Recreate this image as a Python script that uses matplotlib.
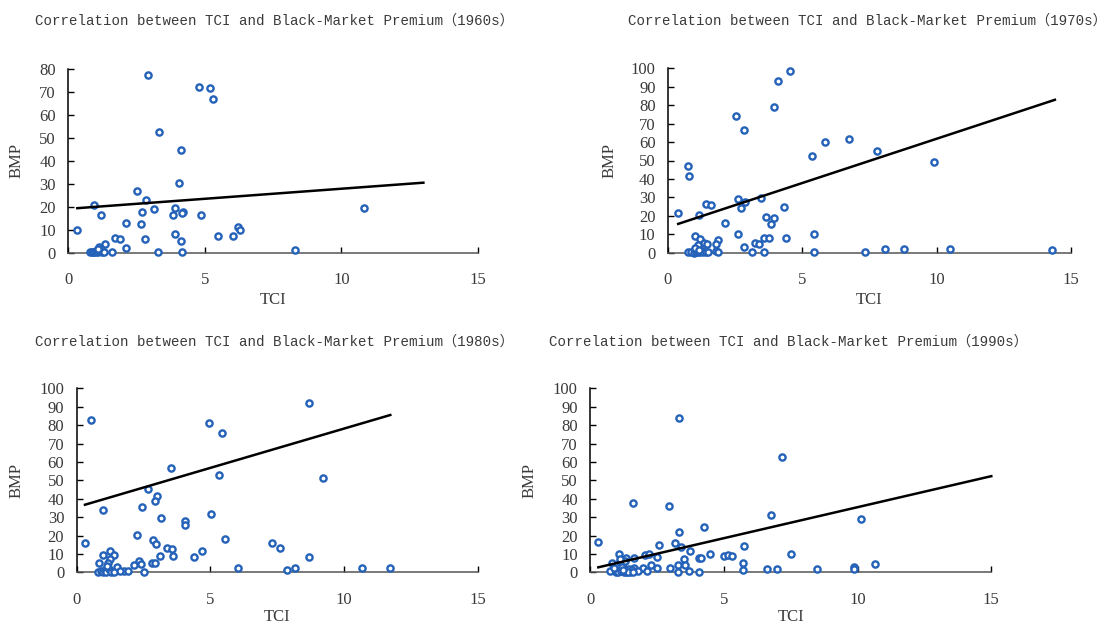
import matplotlib
matplotlib.use("Agg")
import matplotlib.pyplot as plt
import numpy as np

# ---------------- data ----------------
titles = [
    "Correlation between TCI and Black-Market Premium（1960s）",
    "Correlation between TCI and Black-Market Premium（1970s）",
    "Correlation between TCI and Black-Market Premium（1980s）",
    "Correlation between TCI and Black-Market Premium（1990s）",
]

tci_1960s = [2.91, 4.78, 5.18, 5.31, 3.32, 4.12, 4.07, 2.52, 2.83, 0.95, 10.82, 3.92,
             3.14, 2.71, 4.20, 4.15, 3.85, 1.19, 4.86, 2.12, 2.66, 6.23, 6.27, 0.33,
             3.92, 1.70, 1.89, 2.80, 5.48, 6.02, 4.12, 1.36, 1.14, 2.12, 8.30, 1.61,
             3.29, 4.16, 0.78, 0.85, 0.90, 0.95, 1.00, 1.05, 1.10, 1.15, 1.20, 1.25,
             1.30, 1.08]
bmp_1960s = [77.3, 72.2, 71.7, 67.1, 52.7, 44.9, 30.4, 26.7, 23.1, 20.6, 19.3, 19.3,
             18.9, 17.9, 17.9, 17.4, 16.4, 16.4, 16.4, 12.8, 12.4, 11.2, 9.9, 9.9,
             8.1, 6.3, 5.8, 5.8, 7.1, 7.1, 5.0, 3.6, 2.6, 2.2, 1.2, 0.3,
             0.3, 0.3, 0.2, 0.3, 0.1, 0.5, 0.2, 1.0, 0.4, 0.6, 1.5, 0.3,
             0.2, 1.8]

tci_1970s = [4.55, 4.09, 3.95, 2.52, 2.84, 6.74, 5.85, 7.79, 5.37, 9.91, 0.73, 0.78,
             3.47, 2.61, 2.88, 2.70, 4.31, 1.40, 1.61, 0.38, 1.17, 3.64, 3.96, 3.83,
             2.13, 2.61, 5.42, 1.02, 1.18, 1.85, 3.56, 3.76, 4.39, 1.35, 1.45, 1.13,
             1.79, 3.25, 3.37, 2.84, 1.77, 1.87, 3.13, 3.56, 5.42, 7.33, 8.09, 8.80,
             10.49, 14.30, 0.75, 0.85, 0.95, 1.05, 1.10, 1.20, 1.25, 1.30, 1.40, 1.50,
             1.00, 1.15]
bmp_1970s = [98.6, 93.3, 78.9, 74.3, 66.8, 61.5, 59.9, 55.2, 52.3, 49.0, 47.0, 41.4,
             29.7, 29.3, 27.5, 24.4, 24.6, 26.2, 25.7, 21.7, 20.5, 19.2, 18.8, 15.4,
             15.9, 10.1, 10.1, 9.1, 7.3, 6.7, 7.8, 7.8, 7.8, 5.4, 4.6, 4.0,
             4.6, 5.4, 4.9, 3.3, 1.1, 0.6, 0.2, 0.2, 0.2, 0.6, 2.0, 2.0,
             2.0, 1.5, 0.2, 0.4, 0.1, 0.5, 0.3, 0.2, 0.8, 0.3, 0.4, 0.2,
             2.5, 1.2]

tci_1980s = [8.70, 0.53, 4.96, 5.45, 3.54, 5.32, 9.23, 2.68, 3.02, 2.94, 2.44, 0.97,
             5.04, 3.17, 4.06, 4.06, 2.27, 0.30, 2.85, 2.95, 5.56, 7.32, 7.61, 3.39,
             3.55, 4.69, 1.26, 0.98, 1.38, 3.13, 3.61, 4.40, 8.70, 1.26, 0.85, 1.18,
             2.33, 2.41, 2.13, 2.81, 2.92, 1.51, 6.02, 8.17, 7.88, 10.67, 11.72, 2.51,
             1.78, 1.91, 1.62, 0.80, 0.90, 1.00, 1.05, 1.10, 1.20, 1.30, 1.40, 1.15]
bmp_1980s = [91.8, 82.9, 81.3, 75.9, 56.8, 52.7, 51.1, 45.1, 41.3, 38.8, 35.3, 33.7,
             31.9, 29.5, 27.9, 25.5, 20.1, 15.8, 17.4, 15.6, 17.9, 16.1, 13.4, 13.4,
             12.7, 11.4, 11.6, 9.2, 9.2, 8.7, 8.7, 8.2, 8.2, 7.2, 5.2, 5.2,
             6.1, 4.7, 4.0, 5.2, 5.2, 2.9, 2.3, 2.2, 1.3, 2.3, 2.3, 0.2,
             0.7, 0.7, 0.7, 0.2, 0.5, 0.2, 1.5, 0.3, 2.0, 0.4, 0.2, 3.5]

tci_1990s = [3.31, 7.17, 1.59, 2.94, 6.77, 10.13, 4.27, 3.33, 0.30, 3.18, 2.58, 5.74,
             3.38, 3.74, 4.48, 7.52, 1.07, 2.06, 2.21, 5.00, 5.16, 5.31, 2.51, 1.65,
             1.35, 4.06, 4.15, 3.51, 0.81, 5.70, 10.64, 3.27, 3.55, 2.27, 2.99, 2.51,
             1.98, 1.63, 6.61, 6.97, 8.48, 9.87, 9.87, 5.70, 3.70, 4.06, 3.27, 2.11,
             0.74, 1.80, 0.95, 1.00, 1.05, 1.10, 1.15, 1.20, 1.25, 1.30, 1.35, 1.40,
             1.45, 1.50, 1.55, 1.00, 1.10, 1.20, 1.30, 1.40, 1.12, 1.22, 0.90, 1.60]
bmp_1990s = [83.7, 62.5, 37.7, 36.0, 31.3, 29.0, 24.4, 22.1, 16.3, 15.7, 14.7, 14.1,
             13.6, 11.6, 9.9, 9.9, 9.9, 9.4, 9.9, 8.9, 9.4, 8.9, 8.2, 7.6,
             7.6, 7.6, 7.6, 7.1, 5.2, 4.9, 4.7, 3.8, 3.8, 3.8, 2.2, 2.2,
             2.2, 2.2, 1.6, 1.6, 1.6, 2.9, 1.6, 1.3, 0.9, 0.2, 0.2, 0.5,
             0.9, 0.9, 0.3, 1.5, 0.2, 2.5, 0.6, 3.2, 0.3, 1.8, 0.2, 0.8,
             2.0, 0.4, 1.2, 4.0, 5.5, 3.0, 6.0, 0.2, 7.0, 1.0, 2.6, 0.1]

# trend lines: (intercept, slope, x_start, x_end)
trend_1960s = (19.1, 0.876, 0.33, 13.0)
trend_1970s = (13.8, 4.80, 0.38, 14.4)
trend_1980s = (35.4, 4.27, 0.31, 11.73)
trend_1990s = (1.7, 3.37, 0.30, 15.0)

ymax = [80, 100, 100, 100]

# ---------------- layout ----------------
W, H = 1107, 625
fig = plt.figure(figsize=(W / 100, H / 100), dpi=100)

def px_axes(left, right, bottom, top):
    return [left / W, (H - bottom) / H, (right - left) / W, (bottom - top) / H]

axes_pos = [
    px_axes(68.3, 478.0, 252.7, 69.0),
    px_axes(668.0, 1071.0, 252.7, 68.3),
    px_axes(76.7, 477.7, 572.3, 388.3),
    px_axes(590.3, 991.3, 572.3, 388.3),
]
title_pos = [(35, 21), (628, 21), (35, 342), (549, 342)]
ylabel_x = [25, 618, 25, 538]
xlabel_y = [-0.212, -0.212, -0.20, -0.20]

tcis = [tci_1960s, tci_1970s, tci_1980s, tci_1990s]
bmps = [bmp_1960s, bmp_1970s, bmp_1980s, bmp_1990s]
trends = [trend_1960s, trend_1970s, trend_1980s, trend_1990s]

serif = ["Liberation Serif", "Noto Sans CJK SC"]
mono = ["Liberation Mono", "Noto Sans CJK SC"]
txt_color = "#3a3a3a"
mk_color = "#2461b8"

for i in range(4):
    ax = fig.add_axes(axes_pos[i])
    ax.scatter(tcis[i], bmps[i], s=20, facecolors="white", edgecolors=mk_color,
               linewidths=1.7, zorder=3, clip_on=False)
    b0, b1, xs, xe = trends[i]
    xl = np.array([xs, xe])
    ax.plot(xl, b0 + b1 * xl, color="black", lw=1.8, zorder=4, clip_on=False)
    ax.set_xlim(0, 15)
    ax.set_ylim(0, ymax[i])
    ax.set_xticks([0, 5, 10, 15])
    ax.set_yticks(np.arange(0, ymax[i] + 1, 10))
    for s in ["top", "right"]:
        ax.spines[s].set_visible(False)
    ax.spines["left"].set_linewidth(1.1)
    ax.spines["bottom"].set_linewidth(1.1)
    ax.spines["bottom"].set_color("#555555")
    ax.tick_params(axis="both", direction="in", length=4, width=1,
                   labelsize=12, colors="black", labelcolor=txt_color)
    ax.tick_params(axis="x", pad=14)
    ax.tick_params(axis="y", pad=9)
    for lab in ax.get_xticklabels() + ax.get_yticklabels():
        lab.set_fontfamily(serif)
    ax.set_xlabel("TCI", fontsize=12, family=serif, color=txt_color)
    ax.xaxis.set_label_coords(0.5, xlabel_y[i])
    ax.set_ylabel("BMP", fontsize=12, family=serif, color=txt_color)
    left_px = axes_pos[i][0] * W
    width_px = axes_pos[i][2] * W
    ax.yaxis.set_label_coords((ylabel_x[i] - left_px) / width_px, 0.5)
    tx, ty = title_pos[i]
    fig.text(tx / W, 1 - ty / H, titles[i], family=mono, fontsize=10.2,
             color=txt_color, ha="left", va="center")

fig.savefig("out.png", dpi=100)
